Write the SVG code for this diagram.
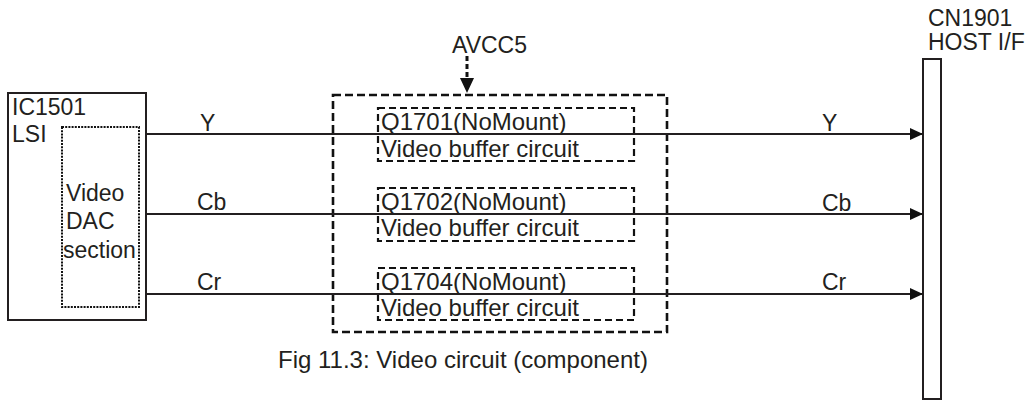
<svg xmlns="http://www.w3.org/2000/svg" width="1031" height="400" viewBox="0 0 1031 400">
<style>
text{font-family:"Liberation Sans",Arial,Helvetica,sans-serif;font-size:23px;fill:#231f20}
.big{font-size:24px}
.box{fill:none;stroke:#231f20;stroke-width:2}
.dot{fill:none;stroke:#111;stroke-width:2;stroke-dasharray:2 1.2}
.outer{fill:none;stroke:#111;stroke-width:2.6;stroke-dasharray:8 4}
.inner{fill:none;stroke:#111;stroke-width:2.2;stroke-dasharray:7 4}
.wire{fill:none;stroke:#231f20;stroke-width:2.2}
</style>
<defs>
<marker id="arr" markerUnits="userSpaceOnUse" markerWidth="14" markerHeight="14" refX="13" refY="6" orient="auto">
<path d="M0,0 L13,6 L0,12 Z" fill="#111"/>
</marker>
</defs>
<rect width="1031" height="400" fill="#fff"/>
<g id="ic1501">
<rect class="box" x="8" y="93" width="138" height="227"/>
<text x="12" y="115">IC1501</text>
<text x="12" y="142">LSI</text>
<rect class="dot" x="62" y="127" width="77" height="180"/>
<text x="66" y="201">Video</text>
<text x="66" y="229">DAC</text>
<text x="63" y="258">section</text>
</g>
<g id="buffer-block">
<rect class="outer" x="333" y="95" width="334" height="237"/>
</g>
<g id="avcc5">
<text x="452" y="53">AVCC5</text>
</g>
<g id="q1701">
<rect class="inner" x="378" y="108" width="256" height="53"/>
<text class="big" x="381" y="130">Q1701(NoMount)</text>
<text class="big" x="381" y="157">Video buffer circuit</text>
</g>
<g id="q1702">
<rect class="inner" x="378" y="188" width="256" height="53"/>
<text class="big" x="381" y="210">Q1702(NoMount)</text>
<text class="big" x="381" y="236">Video buffer circuit</text>
</g>
<g id="q1704">
<rect class="inner" x="378" y="268" width="256" height="52"/>
<text class="big" x="381" y="290">Q1704(NoMount)</text>
<text class="big" x="381" y="316">Video buffer circuit</text>
</g>
<g id="cn1901">
<rect class="box" x="923" y="59" width="18" height="340"/>
<text x="928" y="26">CN1901</text>
<text x="928" y="50">HOST I/F</text>
</g>
<g id="connectors">
<line class="wire" x1="146" y1="134" x2="923" y2="134" marker-end="url(#arr)"/>
<line class="wire" x1="146" y1="214" x2="923" y2="214" marker-end="url(#arr)"/>
<line class="wire" x1="146" y1="294" x2="923" y2="294" marker-end="url(#arr)"/>
<line x1="467" y1="56" x2="467" y2="80" stroke="#111" stroke-width="3" stroke-dasharray="5 3"/>
<path d="M460,78 L474,78 L467,93 Z" fill="#111"/>
<text x="200" y="131">Y</text>
<text x="197" y="210">Cb</text>
<text x="197" y="290">Cr</text>
<text x="822" y="131">Y</text>
<text x="822" y="211">Cb</text>
<text x="822" y="290">Cr</text>
</g>
<text class="big" x="278" y="368">Fig 11.3: Video circuit (component)</text>
</svg>
